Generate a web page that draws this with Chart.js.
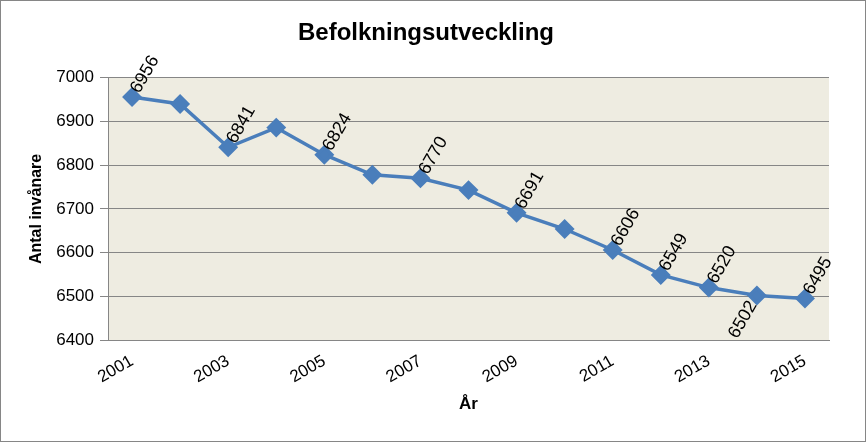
<!DOCTYPE html>
<html><head><meta charset="utf-8">
<script src="https://cdn.jsdelivr.net/npm/chart.js@4"></script>
<style>
html,body{margin:0;padding:0;background:#fff;}
#wrap{position:absolute;left:0;top:0;width:864px;height:440px;border:1px solid #868686;}
</style></head>
<body><div id="wrap"><canvas id="c" width="864" height="440"></canvas></div>
<script>
const years = ['2001','2002','2003','2004','2005','2006','2007','2008','2009','2010','2011','2012','2013','2014','2015'];
const population = [6956,6940,6841,6886,6824,6778,6770,6743,6691,6654,6606,6549,6520,6502,6495];
const labeledAbove = [0,2,4,6,8,10,11,12,14];
const labeledBelow = [13];

const bgPlugin = {
  id:'bg',
  beforeDraw(chart){
    const {ctx, chartArea:a} = chart;
    ctx.save(); ctx.fillStyle='#EEECE1';
    ctx.fillRect(a.left,a.top,a.right-a.left,a.bottom-a.top);
    ctx.restore();
  }
};
const labelPlugin = {
  id:'lbl',
  afterDatasetsDraw(chart){
    const ctx = chart.ctx, meta = chart.getDatasetMeta(0);
    ctx.save();
    ctx.font = '18px "Liberation Sans", Arial, sans-serif';
    ctx.fillStyle = '#000';
    ctx.textBaseline = 'middle';
    const draw = (i, above) => {
      const p = meta.data[i];
      ctx.save();
      ctx.translate(p.x, p.y);
      ctx.rotate(-Math.PI/3);
      ctx.textAlign = above ? 'left' : 'right';
      ctx.fillText(String(population[i]), above ? 6 : -8, 0);
      ctx.restore();
    };
    labeledAbove.forEach(i=>draw(i,true));
    labeledBelow.forEach(i=>draw(i,false));
    ctx.restore();
  }
};

new Chart(document.getElementById('c'), {
  type:'line',
  data:{labels:years, datasets:[{
    data:population, borderColor:'#4A7EBB', backgroundColor:'#4A7EBB',
    borderWidth:3.5, pointStyle:'rectRot', pointRadius:7.5, pointHoverRadius:7.5,
    tension:0
  }]},
  options:{
    responsive:false, animation:false,
    layout:{padding:{left:22,right:36,top:0,bottom:22}},
    plugins:{
      legend:{display:false}, tooltip:{enabled:false},
      title:{display:true, text:'Befolkningsutveckling', color:'#000',
        font:{family:'"Liberation Sans", Arial, sans-serif', size:24, weight:'bold'},
        padding:{top:18,bottom:30}}
    },
    scales:{
      x:{
        offset:true,
        grid:{display:false, drawTicks:true},
        border:{color:'#868686'},
        ticks:{autoSkip:false, maxRotation:30, minRotation:30, color:'#000',
          font:{family:'"Liberation Sans", Arial, sans-serif', size:17},
          callback:(v,i)=> i%2===0 ? years[i] : ''},
        title:{display:true, text:'År', color:'#000',
          font:{family:'"Liberation Sans", Arial, sans-serif', size:17, weight:'bold'}, padding:{top:4}}
      },
      y:{
        min:6400, max:7000,
        grid:{color:'#868686', drawTicks:true},
        border:{color:'#868686'},
        ticks:{stepSize:100, color:'#000', padding:6,
          font:{family:'"Liberation Sans", Arial, sans-serif', size:17},
          callback:v=>String(v)},
        title:{display:true, text:'Antal invånare', color:'#000',
          font:{family:'"Liberation Sans", Arial, sans-serif', size:16, weight:'bold'}}
      }
    }
  },
  plugins:[bgPlugin, labelPlugin]
});
</script></body></html>
